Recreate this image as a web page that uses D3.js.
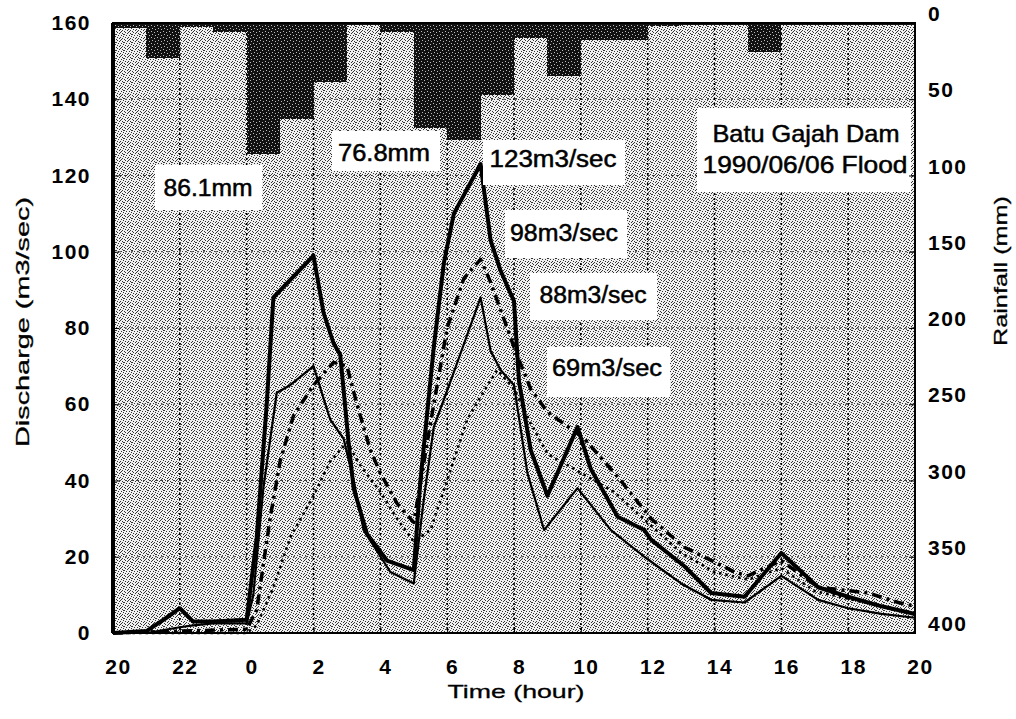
<!DOCTYPE html>
<html>
<head>
<meta charset="utf-8">
<script src="https://cdn.jsdelivr.net/npm/d3@7"></script>
<style>
  body { margin: 0; background: #fff; }
  text { font-family: "Liberation Sans", Arial, sans-serif; fill: #000; }
</style>
</head>
<body>
<svg id="chart" width="1016" height="719"></svg>
<script>
// hours counted from 20:00 of the previous day
const rainHours = d3.range(0, 24);
const rainfall = [3, 23, 2.5, 6, 86.1, 63, 39, 1, 6, 69, 76.8, 47, 10, 35, 11, 11, 2, 1.5, 1.5, 19, 1.5, 1, 1, 1];

const timeTicks = d3.range(0, 25, 2);
const timeLabels = [20, 22, 0, 2, 4, 6, 8, 10, 12, 14, 16, 18, 20];
const dischargeTicks = d3.range(0, 161, 20);
const rainTicks = d3.range(0, 401, 50);

// [hour, discharge m3/sec]
const peak123 = [[0,0],[1,0.5],[1.6,4],[2,6.5],[2.4,3],[3,3],[4,3.5],[4.3,25],[4.6,60],[4.8,88],[6,99],[6.3,84],[6.6,76],[6.8,73],
  [7.05,50],[7.2,38],[7.6,26],[8.2,19],[9,16.5],[9.2,40],[9.6,75],[9.9,97],[10.2,110],[11,123],[11.3,103],[11.6,95],[12,87],
  [12.15,66],[12.5,48],[13,36],[13.9,54],[14.3,43],[15.1,30.5],[15.9,27],[16.1,24.5],[17.1,17.5],[17.9,10.5],[18.9,9.5],
  [20,21],[21.1,12],[22,9.5],[23,7],[24,5]];
const peak98 = [[0,0],[2,0.5],[4,1],[4.3,6],[4.7,30],[5,45],[5.4,57],[6,65],[6.6,71],[7,70],[7.3,60],[7.7,48],[8,42],[8.5,34],
  [9,29],[9.5,55],[10,80],[10.5,93],[11,98],[11.3,92],[12,75],[12.5,64],[13,58],[14.1,51],[15.1,41],[16.1,30],[17.1,22.5],
  [18.6,16],[19,15],[20,19],[21.1,12],[22.6,10.5],[23.5,8],[24,7]];
const peak88 = [[0,0],[1,0],[2,1.5],[2.4,2],[3,2.5],[4,2.5],[4.2,10],[4.5,38],[4.9,63],[5.3,65],[6,70],[6.5,56],[6.9,51],
  [7.2,40],[7.5,27],[8.3,16],[9,13],[9.3,35],[9.6,54],[10.1,66],[11,88],[11.3,74],[11.6,69],[12,65],[12.4,42],[12.9,27],
  [13.9,38],[14.9,27],[15.9,20],[17,13],[17.9,8.7],[18.9,8],[20,15],[21.1,8.7],[22,6.5],[23,5],[24,4]];
const peak69 = [[0,0],[4,0],[4.3,2],[4.8,12],[5.3,25],[6,36],[6.5,45],[7,50],[7.4,44],[8,37],[8.5,30],[9,24],[9.5,27],[10,40],
  [10.6,56],[11,62],[11.5,69],[12,64],[12.5,55],[13,47],[14,42],[15,37],[16,29],[17,21],[18,16],[19,14],[20,17],[21,11],
  [22,9],[23,7],[24,5]];

const labels = [
  { text: "86.1mm", x: 208, y: 196, w: 89, box: [155, 165, 107, 45] },
  { text: "76.8mm", x: 384, y: 161, w: 92, box: [332, 131, 108, 40] },
  { text: "123m3/sec", x: 553, y: 167, w: 127, box: [483, 140, 142, 45] },
  { text: "98m3/sec", x: 564, y: 241, w: 108, box: [505, 210, 122, 48] },
  { text: "88m3/sec", x: 593, y: 303, w: 107, box: [530, 273, 127, 47] },
  { text: "69m3/sec", x: 607, y: 376, w: 110, box: [547, 347, 123, 50] }
];

const svg = d3.select("#chart");
const plotLeft = 113, plotRight = 915, plotTop = 23, plotBottom = 633;

const x = d3.scaleLinear().domain([0, 24]).range([plotLeft, plotRight]);
const y = d3.scaleLinear().domain([0, 160]).range([plotBottom, plotTop]);
const yRain = d3.scaleLinear().domain([0, 400]).range([plotTop, plotBottom]);

// stipple textures like the scanned print
const defs = svg.append("defs");
const bg = defs.append("pattern").attr("id", "stipple").attr("patternUnits", "userSpaceOnUse")
  .attr("width", 8).attr("height", 8);
bg.append("rect").attr("width", 8).attr("height", 8).attr("fill", "#f0f0f0");
[[0,0],[5,0],[2,1],[7,1],[4,2],[1,3],[6,3],[3,4],[0,5],[5,5],[2,6],[7,6],[4,7],[1,7],[3,2]].forEach(p =>
  bg.append("rect").attr("x", p[0]).attr("y", p[1]).attr("width", 1).attr("height", 1).attr("fill", "#333"));

const dark = defs.append("pattern").attr("id", "darkStipple").attr("patternUnits", "userSpaceOnUse")
  .attr("width", 6).attr("height", 6);
dark.append("rect").attr("width", 6).attr("height", 6).attr("fill", "#111");
[[1, 1], [4, 2], [2, 4], [5, 5]].forEach(p =>
  dark.append("rect").attr("x", p[0]).attr("y", p[1]).attr("width", 1).attr("height", 1).attr("fill", "#bbb"));

svg.append("rect").attr("x", plotLeft).attr("y", plotTop)
  .attr("width", plotRight - plotLeft).attr("height", plotBottom - plotTop)
  .attr("fill", "url(#stipple)").attr("shape-rendering", "crispEdges");

// grid
svg.append("g").selectAll("line").data(dischargeTicks.slice(1, -1)).join("line")
  .attr("x1", plotLeft).attr("x2", plotRight).attr("y1", d => y(d)).attr("y2", d => y(d))
  .attr("stroke", "#444").attr("stroke-width", 1).attr("stroke-dasharray", "2,4");
svg.append("g").selectAll("line").data(timeTicks.slice(1, -1)).join("line")
  .attr("x1", d => x(d)).attr("x2", d => x(d)).attr("y1", plotTop).attr("y2", plotBottom)
  .attr("stroke", "#000").attr("stroke-width", 1.6).attr("stroke-dasharray", "2,3");

// rainfall bars hanging from the top
svg.append("g").selectAll("rect").data(rainHours).join("rect")
  .attr("x", d => x(d)).attr("y", plotTop)
  .attr("width", d => x(d + 1) - x(d))
  .attr("height", (d, i) => yRain(rainfall[i]) - plotTop)
  .attr("fill", "url(#darkStipple)").attr("shape-rendering", "crispEdges");

// hydrographs
const line = d3.line().x(d => x(d[0])).y(d => y(d[1]));
const series = [
  { data: peak69, width: 2.6, dash: "2.5,4" },
  { data: peak98, width: 3.5, dash: "10,5,3,5" },
  { data: peak88, width: 2.2, dash: null },
  { data: peak123, width: 4, dash: null }
];
svg.append("g").selectAll("path").data(series).join("path")
  .attr("d", d => line(d.data))
  .attr("fill", "none").attr("stroke", "#000")
  .attr("stroke-width", d => d.width)
  .attr("stroke-dasharray", d => d.dash)
  .attr("stroke-linejoin", "round");

// annotation boxes
const ann = svg.append("g").selectAll("g").data(labels).join("g");
ann.append("rect").attr("x", d => d.box[0]).attr("y", d => d.box[1])
  .attr("width", d => d.box[2]).attr("height", d => d.box[3]).attr("fill", "#fff");
ann.append("text").attr("x", d => d.x).attr("y", d => d.y).attr("text-anchor", "middle")
  .attr("font-size", 23).attr("textLength", d => d.w).attr("lengthAdjust", "spacingAndGlyphs")
  .attr("stroke", "#000").attr("stroke-width", 0.5)
  .text(d => d.text);

const legend = svg.append("g");
legend.append("rect").attr("x", 697).attr("y", 108).attr("width", 214).attr("height", 84).attr("fill", "#fff");
legend.append("text").attr("x", 806).attr("y", 142).attr("text-anchor", "middle").attr("font-size", 24)
  .attr("stroke", "#000").attr("stroke-width", 0.5)
  .attr("textLength", 187).attr("lengthAdjust", "spacingAndGlyphs").text("Batu Gajah Dam");
legend.append("text").attr("x", 805).attr("y", 173).attr("text-anchor", "middle").attr("font-size", 24)
  .attr("stroke", "#000").attr("stroke-width", 0.5)
  .attr("textLength", 205).attr("lengthAdjust", "spacingAndGlyphs").text("1990/06/06 Flood");

// frame
svg.append("rect").attr("x", plotLeft).attr("y", plotTop)
  .attr("width", plotRight - plotLeft).attr("height", plotBottom - plotTop)
  .attr("fill", "none").attr("stroke", "#000").attr("stroke-width", 2);
svg.append("line").attr("x1", plotLeft).attr("x2", plotLeft).attr("y1", plotTop).attr("y2", plotBottom)
  .attr("stroke", "#000").attr("stroke-width", 4);

// axes
const axisFont = g => g.selectAll("text").attr("font-size", 21).attr("font-weight", "bold")
  .attr("letter-spacing", "1.5px").attr("font-family", "Liberation Sans, Arial, sans-serif");

const gl = svg.append("g").attr("transform", `translate(${plotLeft},0)`)
  .call(d3.axisLeft(y).tickValues(dischargeTicks).tickSize(-6).tickPadding(22));
gl.select(".domain").remove();
axisFont(gl);

const gr = svg.append("g").attr("transform", `translate(${plotRight},0)`)
  .call(d3.axisRight(yRain).tickValues(rainTicks).tickSize(-6).tickPadding(13));
gr.select(".domain").remove();
axisFont(gr);
gr.selectAll(".tick text").attr("transform", "translate(0,-9)");

const gb = svg.append("g").attr("transform", `translate(0,${plotBottom})`)
  .call(d3.axisBottom(x).tickValues(timeTicks).tickSize(-6).tickPadding(26)
    .tickFormat((d, i) => timeLabels[i]));
gb.select(".domain").remove();
axisFont(gb);
gb.selectAll("text").attr("dx", 5);

// axis titles
svg.append("text").attr("transform", "translate(29,322) rotate(-90)").attr("text-anchor", "middle")
  .attr("font-size", 19).attr("textLength", 250).attr("lengthAdjust", "spacingAndGlyphs")
  .attr("stroke", "#000").attr("stroke-width", 0.3)
  .text("Discharge (m3/sec)");
svg.append("text").attr("transform", "translate(1007,271) rotate(-90)").attr("text-anchor", "middle")
  .attr("font-size", 19).attr("textLength", 150).attr("lengthAdjust", "spacingAndGlyphs")
  .attr("stroke", "#000").attr("stroke-width", 0.3)
  .text("Rainfall (mm)");
svg.append("text").attr("x", 516).attr("y", 698).attr("text-anchor", "middle")
  .attr("font-size", 19).attr("textLength", 137).attr("lengthAdjust", "spacingAndGlyphs")
  .attr("stroke", "#000").attr("stroke-width", 0.3)
  .text("Time (hour)");
</script>
</body>
</html>
